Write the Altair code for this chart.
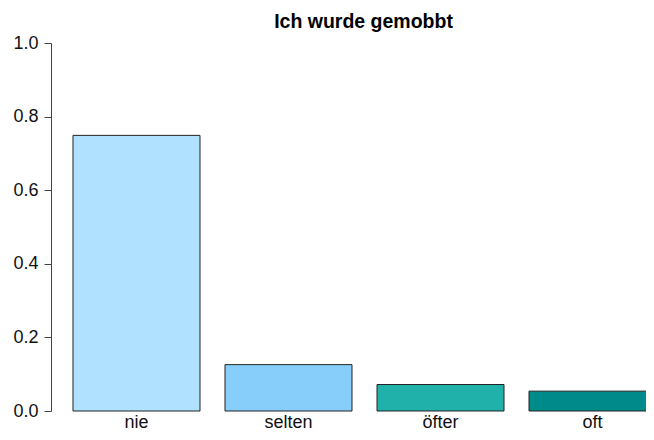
import altair as alt
import pandas as pd

categories = ["nie", "selten", "öfter", "oft"]
values = [0.749, 0.126, 0.072, 0.054]
colors = ["#B0E2FF", "#87CEFA", "#20B2AA", "#008B8B"]
y_ticks = [0.0, 0.2, 0.4, 0.6, 0.8, 1.0]

df = pd.DataFrame({"kategorie": categories, "anteil": values})

chart = (
    alt.Chart(df)
    .mark_bar(stroke="#222222", strokeWidth=1)
    .encode(
        x=alt.X(
            "kategorie:N",
            sort=categories,
            scale=alt.Scale(paddingInner=0.1645, paddingOuter=0.1447, range=[0, 627]),
            axis=alt.Axis(
                title=None,
                domain=False,
                ticks=False,
                labelAngle=0,
                labelFontSize=18,
                labelColor="#111111",
                labelPadding=2,
                labelFont="Liberation Sans",
            ),
        ),
        y=alt.Y(
            "anteil:Q",
            scale=alt.Scale(domain=[0, 1], nice=False),
            axis=alt.Axis(
                title=None,
                values=y_ticks,
                format=".1f",
                grid=False,
                domainColor="#444444",
                tickColor="#444444",
                tickSize=7,
                labelFontSize=18,
                labelColor="#111111",
                labelPadding=6,
                labelFont="Liberation Sans",
            ),
        ),
        color=alt.Color(
            "kategorie:N",
            sort=categories,
            scale=alt.Scale(domain=categories, range=colors),
            legend=None,
        ),
    )
    .properties(
        width=595,
        height=368,
        title=alt.TitleParams(
            "Ich wurde gemobbt",
            font="Liberation Sans",
            fontSize=19.5,
            fontWeight="bold",
            color="#000000",
            anchor="middle",
            dx=15,
            dy=3,
            offset=5,
        ),
        autosize=alt.AutoSizeParams(type="none"),
        padding={"left": 43, "top": 35, "right": 0, "bottom": 21},
    )
    .configure_view(stroke=None)
)

chart.save("out.html", embed_options={"renderer": "svg", "actions": False})
